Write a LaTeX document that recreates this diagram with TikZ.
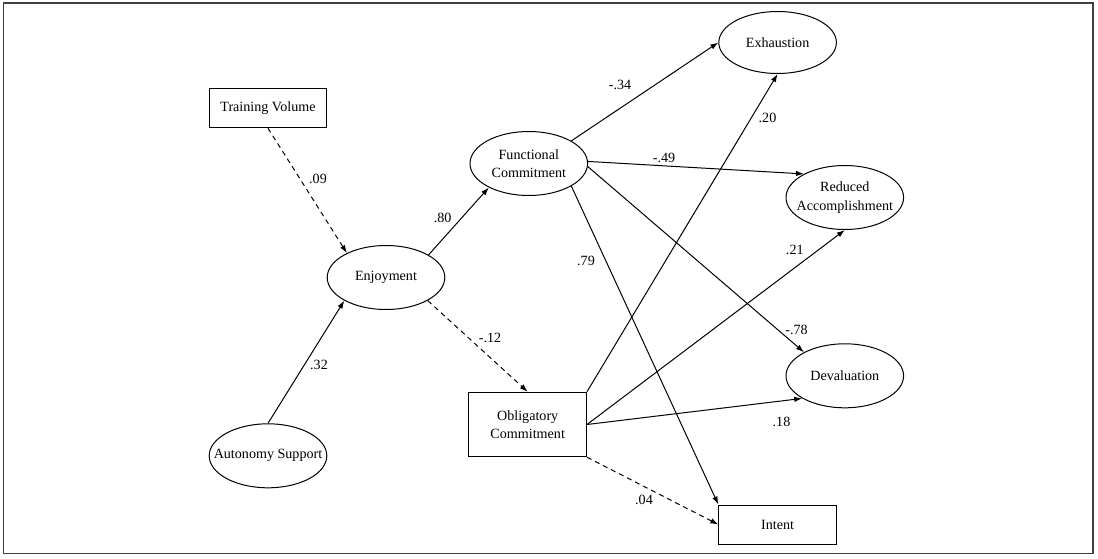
\documentclass[tikz,border=0pt]{standalone}
\usepackage{fontspec}
\setmainfont{Liberation Serif}
\usetikzlibrary{shapes.geometric,arrows.meta}
\begin{document}
\begin{tikzpicture}[x=1pt,y=-1pt,
  every node/.style={font=\fontsize{14.1}{18.3}\selectfont},
  ell/.style={draw,ellipse,line width=1pt,minimum width=117.6pt,minimum height=64pt,inner xsep=-20pt,inner ysep=0pt,align=center},
  rbox/.style={draw,rectangle,line width=1pt,minimum width=117.6pt,minimum height=39.5pt,inner sep=0pt,align=center},
  conn/.style={line width=1pt,-{Latex[length=8pt,width=5.5pt]}},
  dconn/.style={conn,dash pattern=on 5pt off 4pt},
  coef/.style={inner sep=1pt}]
\useasboundingbox (0,0) rectangle (1098,559);
\draw[line width=1.6pt,black!75] (3.3,2.8) rectangle (1093,553.3);

\node[rbox] (tv) at (268,108) {Training Volume};
\node[ell] (enj) at (386,277.5) {Enjoyment};
\node[ell] (as) at (268,455.8) {Autonomy Support};
\node[ell] (fc) at (528.8,163.5) {Functional\\Commitment};
\node[rbox,minimum height=64.5pt] (oc) at (527.7,424.5) {Obligatory\\Commitment};
\node[ell,minimum height=62pt] (exh) at (777.6,42.5) {Exhaustion};
\node[ell] (ra) at (844.8,197.5) {Reduced\\Accomplishment};
\node[ell] (dev) at (844.8,375.8) {Devaluation};
\node[rbox,minimum height=39pt] (intent) at (777.6,524.5) {Intent};

\draw[dconn] (tv.south) -- (enj.148);
\draw[conn] (as.north) -- (enj.209);
\draw[conn] (enj.28) -- (fc.211);
\draw[dconn] (enj.-29) -- (oc.north);
\draw[conn] (fc.28) -- (exh.west);
\draw[conn] (fc.2) -- (ra.150);
\draw[conn] (fc.-3) -- (dev.150);
\draw[conn] (fc.-28) -- (intent.north west);
\draw[conn] (oc.north east) -- (exh.south);
\draw[conn] (oc.east) -- (ra.south);
\draw[conn] (oc.east) -- (dev.208);
\draw[dconn] (oc.south east) -- (intent.west);

\node[coef] (l09) at (318,179) {.09};
\node[coef] (l80) at (442.6,218.3) {.80};
\node[coef] (l32) at (319,365) {.32};
\node[coef] (l12) at (490,337.7) {-.12};
\node[coef] (l34) at (620,85) {-.34};
\node[coef] (l20) at (767.5,117.7) {.20};
\node[coef] (l49) at (664,157.7) {-.49};
\node[coef] (l21) at (794.8,250) {.21};
\node[coef] (l79) at (586,260.7) {.79};
\node[coef] (l78) at (796.6,330) {-.78};
\node[coef] (l18) at (781.5,421.7) {.18};
\node[coef] (l04) at (644,500) {.04};
\end{tikzpicture}
\end{document}
